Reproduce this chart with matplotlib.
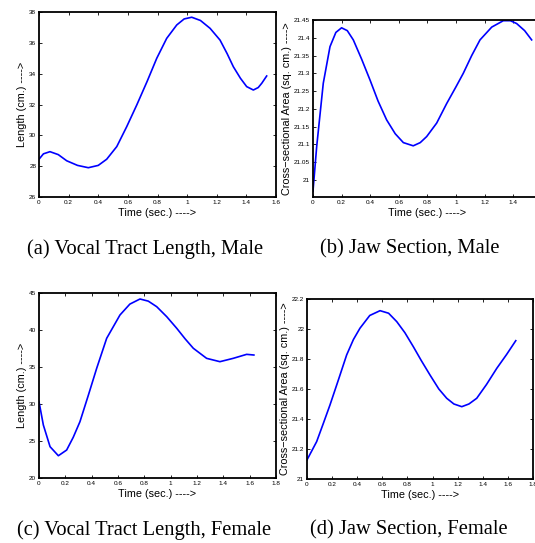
import matplotlib
matplotlib.use('Agg')
import matplotlib.pyplot as plt

# (a) vocal tract length, male
t_a = [0.0, 0.03, 0.074, 0.13, 0.187, 0.26, 0.333, 0.40, 0.457, 0.525, 0.592, 0.66, 0.73, 0.795,
       0.862, 0.93, 0.98, 1.031, 1.09, 1.155, 1.222, 1.27, 1.312, 1.36, 1.402, 1.447, 1.48, 1.504, 1.537]
len_a = [28.45, 28.8, 28.94, 28.75, 28.35, 28.05, 27.9, 28.05, 28.45, 29.27, 30.56, 31.97, 33.5, 35.0,
         36.29, 37.16, 37.55, 37.66, 37.45, 36.94, 36.18, 35.3, 34.45, 33.7, 33.16, 32.94, 33.1, 33.38, 33.85]

# (b) jaw section, male
t_b = [0.0, 0.026, 0.072, 0.119, 0.16, 0.2, 0.24, 0.282, 0.34, 0.399, 0.455, 0.515, 0.575, 0.632, 0.701,
       0.75, 0.795, 0.865, 0.935, 1.0, 1.051, 1.11, 1.168, 1.25, 1.331, 1.38, 1.424, 1.48, 1.529]
area_b = [20.968, 21.094, 21.272, 21.375, 21.415, 21.428, 21.42, 21.394, 21.34, 21.281, 21.222, 21.169, 21.13,
          21.105, 21.096, 21.105, 21.122, 21.16, 21.215, 21.262, 21.3, 21.35, 21.394, 21.43, 21.448, 21.448,
          21.44, 21.42, 21.394]

# (c) vocal tract length, female
t_c = [0.0, 0.033, 0.084, 0.147, 0.21, 0.26, 0.311, 0.375, 0.438, 0.514, 0.615, 0.69, 0.767, 0.83, 0.894,
       0.97, 1.046, 1.11, 1.172, 1.273, 1.374, 1.475, 1.577, 1.632]
len_c = [30.31, 27.16, 24.23, 23.01, 23.78, 25.5, 27.61, 31.2, 34.82, 38.88, 42.03, 43.5, 44.19, 43.9, 43.15,
         41.8, 40.23, 38.8, 37.53, 36.17, 35.72, 36.17, 36.71, 36.62]

# (d) jaw section, female
t_d = [0.0, 0.077, 0.13, 0.183, 0.25, 0.316, 0.37, 0.422, 0.5, 0.582, 0.65, 0.715, 0.78, 0.847, 0.91,
       0.98, 1.05, 1.113, 1.17, 1.233, 1.29, 1.352, 1.43, 1.512, 1.59, 1.663]
area_d = [21.127, 21.249, 21.37, 21.493, 21.66, 21.827, 21.93, 22.005, 22.09, 22.122, 22.105, 22.049, 21.975,
          21.882, 21.79, 21.693, 21.6, 21.538, 21.5, 21.482, 21.5, 21.538, 21.63, 21.738, 21.83, 21.922]

xt_16 = [0, 0.2, 0.4, 0.6, 0.8, 1, 1.2, 1.4, 1.6]
xt_18 = [0, 0.2, 0.4, 0.6, 0.8, 1, 1.2, 1.4, 1.6, 1.8]

plt.rcParams['font.family'] = ['Liberation Sans', 'DejaVu Sans']

fig = plt.figure(figsize=(5.35, 5.43), dpi=100)


def style(ax, xlim, xticks, xlabels, ylim, yticks, ylab):
    ax.set_xlim(*xlim)
    ax.set_ylim(*ylim)
    ax.set_xticks(xticks)
    ax.set_xticklabels(xlabels)
    ax.set_yticks(yticks)
    ax.set_yticklabels(['%g' % v for v in yticks])
    ax.tick_params(direction='in', length=2.5, width=0.6, labelsize=4.6, pad=2,
                   top=True, right=True)
    for sp in ax.spines.values():
        sp.set_linewidth(1.3)
    ax.set_xlabel('Time (sec.) ---->', fontsize=7.8, labelpad=2.2)
    ax.set_ylabel(ylab, fontsize=7.8, labelpad=1.5)


ax_a = fig.add_axes([0.0729, 0.6372, 0.443, 0.3407])
ax_a.plot(t_a, len_a, color='blue', lw=1.2)
style(ax_a, (0, 1.6), xt_16, ['%g' % v for v in xt_16], (26, 38),
      [26, 28, 30, 32, 34, 36, 38], 'Length (cm.) ---->')

ax_b = fig.add_axes([0.585, 0.6372, 0.4277, 0.326])
ax_b.plot(t_b, area_b, color='blue', lw=1.2)
style(ax_b, (0, 1.6), xt_16, ['%g' % v for v in xt_16[:-1]] + [''], (20.952, 21.45),
      [21, 21.05, 21.1, 21.15, 21.2, 21.25, 21.3, 21.35, 21.4, 21.45],
      'Cross\u2212sectional Area (sq. cm.) ---->')

ax_c = fig.add_axes([0.0729, 0.1197, 0.443, 0.3407])
ax_c.plot(t_c, len_c, color='blue', lw=1.2)
style(ax_c, (0, 1.8), xt_18, ['%g' % v for v in xt_18], (20, 45),
      [20, 25, 30, 35, 40, 45], 'Length (cm.) ---->')

ax_d = fig.add_axes([0.5738, 0.1179, 0.4224, 0.3315])
ax_d.plot(t_d, area_d, color='blue', lw=1.2)
style(ax_d, (0, 1.8), xt_18, ['%g' % v for v in xt_18], (21, 22.2),
      [21, 21.2, 21.4, 21.6, 21.8, 22, 22.2],
      'Cross\u2212sectional Area (sq. cm.) ---->')

caps = [(0.271, 1 - 249 / 543, '(a) Vocal Tract Length, Male'),
        (0.765, 1 - 249 / 543, '(b) Jaw Section, Male'),
        (0.270, 1 - 530 / 543, '(c) Vocal Tract Length, Female'),
        (0.765, 1 - 530 / 543, '(d) Jaw Section, Female')]
for x, y, s in caps:
    fig.text(x, y, s, ha='center', va='center', fontsize=14.8,
             family=['Liberation Serif', 'DejaVu Serif'])

fig.savefig('out.png', dpi=100)
